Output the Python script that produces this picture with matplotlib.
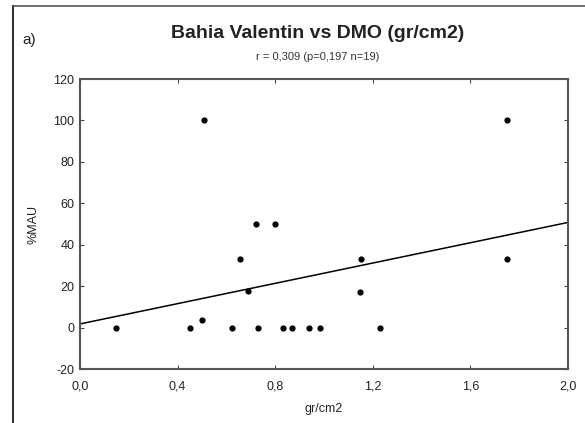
import numpy as np
import matplotlib
matplotlib.use("Agg")
from matplotlib import pyplot as plt
from matplotlib.lines import Line2D

# density (gr/cm2) vs %MAU
dmo = [0.148, 0.452, 0.500, 0.623, 0.731, 0.832, 0.869, 0.938, 0.983,
       0.657, 0.687, 0.507, 0.721, 0.800, 1.150, 1.146, 1.228, 1.752, 1.752]
mau = [0, 0, 3.5, 0, 0, 0, 0, 0, 0,
       33, 17.5, 100, 50, 50, 33, 17, 0, 100, 33]

x_ticks = [0.0, 0.4, 0.8, 1.2, 1.6, 2.0]
x_labels = ["0,0", "0,4", "0,8", "1,2", "1,6", "2,0"]
y_ticks = [-20, 0, 20, 40, 60, 80, 100, 120]

plt.rcParams['font.family'] = ['Liberation Sans', 'DejaVu Sans']
plt.rcParams['axes.unicode_minus'] = False

fig = plt.figure(figsize=(5.85, 4.23), dpi=100)
ax = fig.add_axes([80/585, 1-369/423, 488/585, 290/423])

ax.scatter(dmo, mau, s=12, color='black', zorder=3)

# least squares line
slope, icpt = np.polyfit(dmo, mau, 1)
xl = np.array([0.0, 2.0])
ax.plot(xl, icpt + slope*xl, color='black', linewidth=1.1)

ax.set_xlim(0, 2.0)
ax.set_ylim(-20, 120)
ax.set_xticks(x_ticks)
ax.set_xticklabels(x_labels)
ax.set_yticks(y_ticks)
ax.tick_params(direction='in', length=3, width=0.8, colors='#444444',
               labelcolor='#222222', labelsize=9, top=True, right=True)
ax.tick_params(axis='x', pad=8)
ax.tick_params(axis='y', pad=4)
for s in ax.spines.values():
    s.set_color('#555555')
    s.set_linewidth(1.5)

ax.set_xlabel("gr/cm2", fontsize=9, color='#222222', labelpad=8)
ax.set_ylabel("%MAU", fontsize=9, color='#222222', labelpad=10)

fig.text(318/585, 1-33/423, "Bahia Valentin vs DMO (gr/cm2)", ha='center', va='center',
         fontsize=14, fontweight='bold', color='#222222')
fig.text(318/585, 1-57/423, "r = 0,309 (p=0,197 n=19)", ha='center', va='center',
         fontsize=8, color='#333333')
fig.text(22/585, 1-40/423, "a)", ha='left', va='center', fontsize=11, color='#222222')

# outer frame, left and top edges only
fig.add_artist(Line2D([13/585, 13/585], [0, 1-6/423], color='#333333', linewidth=1.5))
fig.add_artist(Line2D([13/585, 1], [1-6/423, 1-6/423], color='#555555', linewidth=1.2))

fig.savefig("out.png", dpi=100)
